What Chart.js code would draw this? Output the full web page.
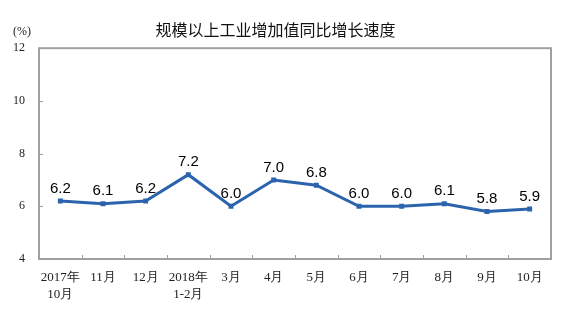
<!DOCTYPE html>
<html>
<head>
<meta charset="utf-8">
<script src="https://cdn.jsdelivr.net/npm/chart.js@4.4.0/dist/chart.umd.min.js"></script>
<style>
  html, body { margin: 0; padding: 0; background: #fff; }
  #wrap { width: 567px; height: 322px; }
</style>
</head>
<body>
<div id="wrap"><canvas id="myChart"></canvas></div>
<script>
// data
const months = [
  ['2017年', '10月'], '11月', '12月', ['2018年', '1-2月'], '3月', '4月',
  '5月', '6月', '7月', '8月', '9月', '10月'
];
const growth = [6.2, 6.1, 6.2, 7.2, 6.0, 7.0, 6.8, 6.0, 6.0, 6.1, 5.8, 5.9];
const yTicks = [4, 6, 8, 10, 12];

const frameColor = '#a0a0a0';
const lineColor = '#2b64ad';

// frame + inner tick marks
const framePlugin = {
  id: 'frame',
  afterDraw(chart) {
    const { ctx, chartArea: a, scales } = chart;
    ctx.save();
    ctx.strokeStyle = frameColor;
    ctx.lineWidth = 2;
    ctx.strokeRect(a.left, a.top, a.right - a.left, a.bottom - a.top);
    ctx.lineWidth = 1;
    ctx.beginPath();
    for (let i = 1; i < months.length; i++) {
      const x = Math.round((scales.x.getPixelForValue(i - 1) + scales.x.getPixelForValue(i)) / 2) + 0.5;
      ctx.moveTo(x, a.bottom);
      ctx.lineTo(x, a.bottom - 4);
    }
    yTicks.slice(1, -1).forEach(v => {
      const y = Math.round(scales.y.getPixelForValue(v)) + 0.5;
      ctx.moveTo(a.left, y);
      ctx.lineTo(a.left + 4, y);
    });
    ctx.stroke();

    ctx.fillStyle = '#222';
    ctx.font = '12px "Liberation Serif"';
    ctx.textAlign = 'left';
    ctx.textBaseline = 'middle';
    ctx.fillText('(%)', 13, 32);
    ctx.restore();
  }
};

// value labels
const labelPlugin = {
  id: 'valueLabels',
  afterDatasetsDraw(chart) {
    const { ctx } = chart;
    const meta = chart.getDatasetMeta(0);
    ctx.save();
    ctx.fillStyle = '#000';
    ctx.font = '15px "Liberation Sans"';
    ctx.textAlign = 'center';
    ctx.textBaseline = 'bottom';
    meta.data.forEach((pt, i) => {
      ctx.fillText(growth[i].toFixed(1), pt.x, pt.y - 5);
    });
    ctx.restore();
  }
};

new Chart(document.getElementById('myChart'), {
  type: 'line',
  data: {
    labels: months,
    datasets: [{
      data: growth,
      borderColor: lineColor,
      backgroundColor: lineColor,
      borderWidth: 3,
      pointStyle: 'rect',
      pointRadius: 3.5,
      pointBorderWidth: 0,
      tension: 0
    }]
  },
  options: {
    responsive: true,
    maintainAspectRatio: false,
    animation: false,
    layout: { padding: { left: 0, right: 16, top: 0, bottom: 0 } },
    plugins: {
      legend: { display: false },
      tooltip: { enabled: false },
      title: {
        display: true,
        text: '规模以上工业增加值同比增长速度',
        color: '#111',
        font: { family: '"Noto Sans CJK SC"', size: 16, weight: 'normal', lineHeight: 1.2 },
        padding: { top: 20, bottom: 9 }
      }
    },
    scales: {
      x: {
        offset: true,
        grid: { display: false, drawTicks: false },
        border: { display: false },
        ticks: {
          color: '#222',
          padding: 10,
          maxRotation: 0,
          autoSkip: false,
          font: { family: '"Liberation Serif"', size: 13, lineHeight: 1.3 }
        },
        afterFit(s) { s.height = 63; }
      },
      y: {
        min: 4,
        max: 12,
        grid: { display: false, drawTicks: false },
        border: { display: false },
        ticks: {
          stepSize: 2,
          color: '#222',
          padding: 14,
          font: { family: '"Liberation Serif"', size: 12 }
        },
        afterFit(s) { s.width = 39; }
      }
    }
  },
  plugins: [framePlugin, labelPlugin]
});
</script>
</body>
</html>
